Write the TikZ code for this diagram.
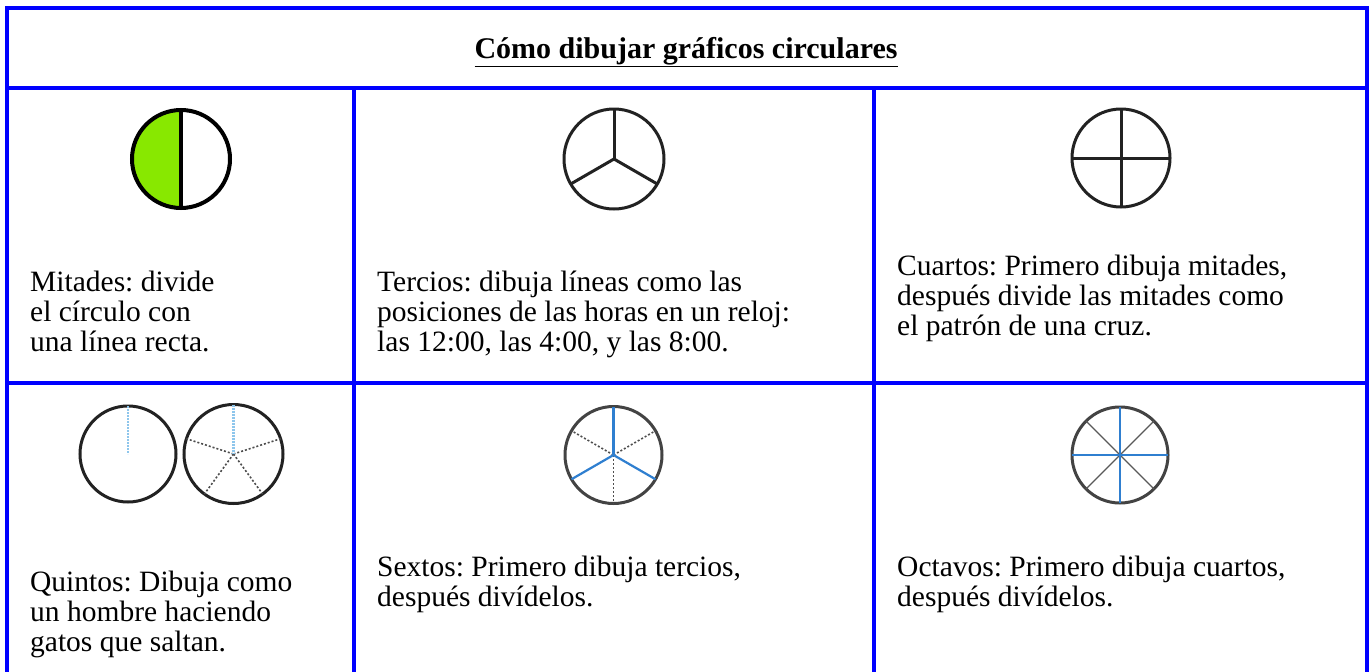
\documentclass[tikz,border=0pt]{standalone}
\usepackage{fontspec}
\setmainfont{Liberation Serif}
\frenchspacing
\definecolor{bord}{HTML}{0000FF}
\definecolor{halfgreen}{HTML}{88E800}
\definecolor{spoke}{HTML}{2F7FD0}
\definecolor{lspoke}{HTML}{8EC6EC}
\definecolor{rim}{HTML}{222222}
\tikzset{
  frame/.style={draw=bord, line width=4pt},
  rimline/.style={draw=rim, line width=3pt},
  txt/.style={anchor=base west, inner sep=0pt, font=\fontsize{29.5}{30}\selectfont, text=black},
  blk/.style={draw=black, line width=4pt},
  bluesp/.style={draw=spoke, line width=2.2pt},
  dotsp/.style={draw=rim!80, line width=1.6pt, dash pattern=on 2pt off 2pt},
  lbluedot/.style={draw=lspoke, line width=2.2pt, dash pattern=on 2pt off 1pt},
  thinsp/.style={draw=rim!75, line width=1.3pt}
}
\begin{document}
\begin{tikzpicture}[x=1pt,y=-1pt]
\useasboundingbox (0,0) rectangle (1369,672);
\clip (0,0) rectangle (1369,672);
\fill[white] (0,0) rectangle (1369,672);
% table frame
\draw[frame] (6.5,8) rectangle (1367,690);
\draw[frame] (6.5,88) -- (1367,88);
\draw[frame] (6.5,383) -- (1367,383);
\draw[frame] (354,88) -- (354,690);
\draw[frame] (874,88) -- (874,690);
% title
\node[inner sep=0pt, font=\fontsize{30}{30}\selectfont\bfseries] (title) at (686,52) {\underline{Cómo dibujar gráficos circulares}};
% Mitades
\coordinate (c1) at (181,159);
\fill[halfgreen] (181,110) arc[start angle=270, end angle=90, radius=49] -- cycle;
\draw[blk] (c1) circle[radius=49];
\draw[blk] (181,110) -- (181,208);
% Tercios
\coordinate (c2) at (614,159);
\draw[rimline] (c2) circle[radius=50];
\draw[rimline] (c2) -- ++(90:-50);
\draw[rimline] (c2) -- ++(-30:-50);
\draw[rimline] (c2) -- ++(210:-50);
% Cuartos
\coordinate (c3) at (1121,158);
\draw[rimline] (c3) circle[radius=49];
\draw[rimline] (1121,109) -- (1121,207);
\draw[rimline] (1072,158) -- (1170,158);
% texts row 1
\node[txt] (t1a) at (30,291) {Mitades: divide};
\node[txt] (t1b) at (30,321) {el círculo con};
\node[txt] (t1c) at (30,351) {una línea recta.};
\node[txt] (t2a) at (377,291) {Tercios: dibuja líneas como las};
\node[txt] (t2b) at (377,321) {posiciones de las horas en un reloj:};
\node[txt] (t2c) at (377,351) {las 12:00, las 4:00, y las 8:00.};
\node[txt] (t3a) at (897,275) {Cuartos: Primero dibuja mitades,};
\node[txt] (t3b) at (897,305) {después divide las mitades como};
\node[txt] (t3c) at (897,335) {el patrón de una cruz.};
% Quintos
\coordinate (q1) at (128,454);
\draw[rimline] (q1) circle[radius=48];
\draw[lbluedot] (128,406) -- (q1);
\coordinate (q2) at (233.5,454);
\draw[rimline] (q2) circle[radius=49.5];
\foreach \a in {162,18,-54,-126} \draw[dotsp] (q2) -- ++(\a:-49.5);
\draw[lbluedot] (233.5,404.5) -- (q2);
% Sextos
\coordinate (s1) at (613.5,455);
\draw[rimline, draw=rim!85] (s1) circle[radius=48.5];
\foreach \a in {150,30,270} \draw[dotsp] (s1) -- ++(\a:-48.5);
\foreach \a in {90,-30,210} \draw[bluesp] (s1) -- ++(\a:-48.5);
% Octavos
\coordinate (o1) at (1120,455);
\draw[rimline, draw=rim!85] (o1) circle[radius=48];
\foreach \a in {45,135,225,315} \draw[thinsp] (o1) -- ++(\a:-48);
\draw[bluesp] (1120,407) -- (1120,503);
\draw[bluesp] (1072,455) -- (1168,455);
% texts row 2
\node[txt] (t4a) at (30,591) {Quintos: Dibuja como};
\node[txt] (t4b) at (30,621) {un hombre haciendo};
\node[txt] (t4c) at (30,651) {gatos que saltan.};
\node[txt] (t5a) at (377,576) {Sextos: Primero dibuja tercios,};
\node[txt] (t5b) at (377,606) {después divídelos.};
\node[txt] (t6a) at (897,576) {Octavos: Primero dibuja cuartos,};
\node[txt] (t6b) at (897,606) {después divídelos.};
\end{tikzpicture}
\end{document}
